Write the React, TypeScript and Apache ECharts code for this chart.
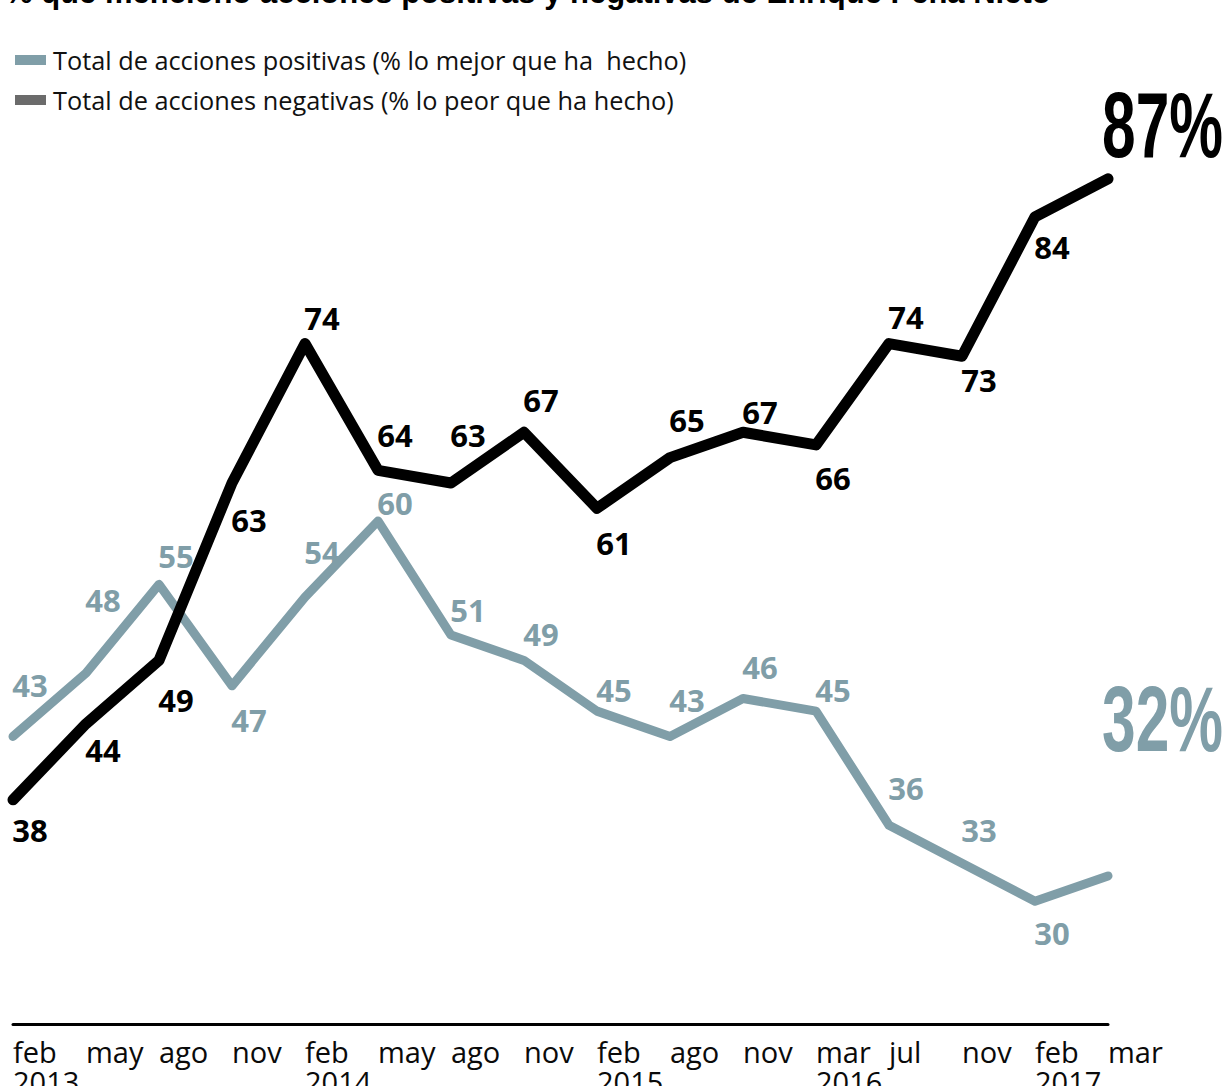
import React, { useEffect, useRef } from "react";
import * as echarts from "echarts";

// ---- data ----
const months = [
  "feb\n2013", "may", "ago", "nov",
  "feb\n2014", "may", "ago", "nov",
  "feb\n2015", "ago", "nov",
  "mar\n2016", "jul", "nov",
  "feb\n2017", "mar",
];
const positivas = [43, 48, 55, 47, 54, 60, 51, 49, 45, 43, 46, 45, 36, 33, 30, 32];
const negativas = [38, 44, 49, 63, 74, 64, 63, 67, 61, 65, 67, 66, 74, 73, 84, 87];

const posName = "Total de acciones positivas (% lo mejor que ha  hecho)";
const negName = "Total de acciones negativas (% lo peor que ha hecho)";
const titleText = "% que mencionó acciones positivas y negativas de Enrique Peña Nieto";

// ---- label placement (px offsets from each point; null = no small label) ----
const posLabelDy = [-51, -73, -28, 34, -45, -18, -25, -26, -21, -36, -31, -21, -37, -33, 32, null];
const negLabelDy = [30, 26, 40, 37, -26, -35, -48, -32, 35, -38, -20, 33, -27, 24, 30, null];
const labelDx = 17;

const GRAY = "#809ea8";
const BLACK = "#000000";

function buildData(values: number[], dys: (number | null)[]) {
  return values.map((v, i) => {
    const dy = dys[i];
    if (dy === null || dy === undefined) {
      return { value: v, label: { show: false } };
    }
    return { value: v, label: { show: true, offset: [labelDx, dy] } };
  });
}

export default function App() {
  const ref = useRef<HTMLDivElement>(null);

  useEffect(() => {
    if (!ref.current) return;
    const chart = echarts.init(ref.current, undefined, { renderer: "svg" });

    const labelBase = {
      show: true,
      position: "inside",
      fontFamily: "'Open Sans', sans-serif",
      fontWeight: 700,
      fontSize: 31,
    };

    const option: any = {
      animation: false,
      backgroundColor: "#ffffff",
      grid: {
        left: 13,
        right: 116,
        top: 14,
        bottom: 58,
        containLabel: false,
        outerBoundsMode: "none",
      },
      legend: {
        orient: "vertical",
        left: 10,
        top: 40,
        icon: "rect",
        itemWidth: 31,
        itemHeight: 10,
        itemGap: 10,
        selectedMode: false,
        textStyle: {
          fontFamily: "'Open Sans', sans-serif",
          fontSize: 25.3,
          color: "#111111",
          lineHeight: 30,
          padding: [0, 0, 0, 2],
        },
        data: [
          { name: posName, itemStyle: { color: GRAY } },
          { name: negName, itemStyle: { color: "#6b6b6b" } },
        ],
      },
      xAxis: {
        type: "category",
        data: months,
        boundaryGap: false,
        offset: -4,
        axisLine: { show: true, lineStyle: { color: "#000", width: 3 } },
        axisTick: { show: false },
        splitLine: { show: false },
        axisLabel: {
          interval: 0,
          align: "left",
          margin: 12,
          hideOverlap: false,
          fontFamily: "'Open Sans', sans-serif",
          fontSize: 29,
          lineHeight: 30,
          color: "#0a0a0a",
        },
      },
      yAxis: {
        type: "value",
        min: 20,
        max: 100,
        show: false,
        splitLine: { show: false },
      },
      series: [
        {
          name: posName,
          type: "line",
          data: buildData(positivas, posLabelDy),
          symbol: "circle",
          symbolSize: 2,
          showSymbol: true,
          itemStyle: { color: GRAY },
          lineStyle: { color: GRAY, width: 9, cap: "round", join: "round" },
          label: { ...labelBase, color: GRAY },
          emphasis: { disabled: true },
          z: 2,
        },
        {
          name: negName,
          type: "line",
          data: buildData(negativas, negLabelDy),
          symbol: "circle",
          symbolSize: 2,
          showSymbol: true,
          itemStyle: { color: BLACK },
          lineStyle: { color: BLACK, width: 11, cap: "round", join: "round" },
          label: { ...labelBase, color: BLACK },
          emphasis: { disabled: true },
          z: 3,
        },
      ],
      graphic: [
        {
          type: "text",
          left: 5,
          top: -23,
          style: {
            text: titleText,
            fontFamily: "'Liberation Sans', Arial, sans-serif",
            fontWeight: 700,
            fontSize: 31,
            fill: "#000",
          },
        },
        {
          type: "text",
          x: 1223,
          y: 125,
          scaleX: 0.65,
          style: {
            text: `${negativas[negativas.length - 1]}%`,
            fontFamily: "'Liberation Sans', Arial, sans-serif",
            fontWeight: 700,
            fontSize: 93,
            fill: BLACK,
            align: "right",
            verticalAlign: "middle",
          },
        },
        {
          type: "text",
          x: 1223,
          y: 719,
          scaleX: 0.65,
          style: {
            text: `${positivas[positivas.length - 1]}%`,
            fontFamily: "'Liberation Sans', Arial, sans-serif",
            fontWeight: 700,
            fontSize: 93,
            fill: GRAY,
            align: "right",
            verticalAlign: "middle",
          },
        },
      ],
    };

    chart.setOption(option);
    return () => {
      chart.dispose();
    };
  }, []);

  return (
    <div
      ref={ref}
      style={{ position: "absolute", left: 0, top: 0, width: 1224, height: 1086 }}
    />
  );
}
